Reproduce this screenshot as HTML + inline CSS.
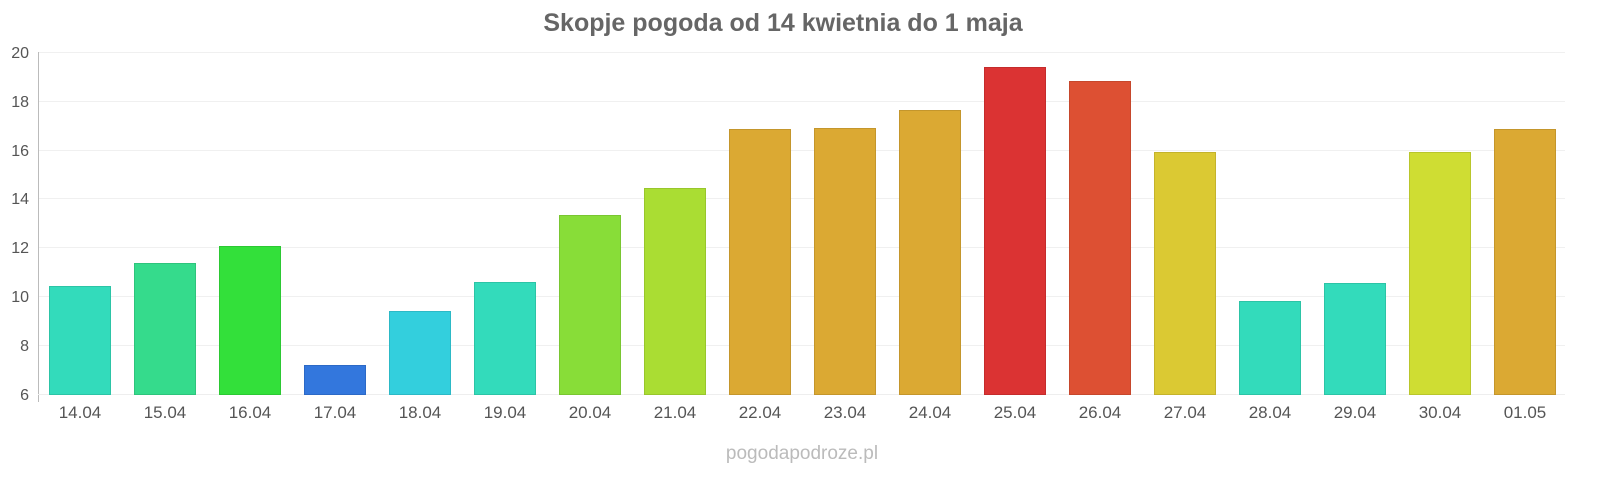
<!DOCTYPE html>
<html><head><meta charset="utf-8"><style>
body{margin:0;background:#fff;}
svg{display:block;font-family:"Liberation Sans",sans-serif;}
</style></head><body>
<svg width="1600" height="480" viewBox="0 0 1600 480">
<text x="783" y="31" text-anchor="middle" font-size="25" font-weight="bold" fill="#666">Skopje pogoda od 14 kwietnia do 1 maja</text>
<g stroke="#f0f0f0" stroke-width="1">
<line x1="38" x2="1565" y1="52.5" y2="52.5"/>
<line x1="38" x2="1565" y1="101.5" y2="101.5"/>
<line x1="38" x2="1565" y1="150.5" y2="150.5"/>
<line x1="38" x2="1565" y1="198.5" y2="198.5"/>
<line x1="38" x2="1565" y1="247.5" y2="247.5"/>
<line x1="38" x2="1565" y1="296.5" y2="296.5"/>
<line x1="38" x2="1565" y1="345.5" y2="345.5"/>
</g>
<line x1="38.5" x2="38.5" y1="52" y2="402" stroke="#bbb"/>
<line x1="38" x2="1565" y1="394.5" y2="394.5" stroke="#eee"/>
<g font-size="16" fill="#555" text-anchor="end">
<text x="29" y="58">20</text><text x="29" y="107">18</text><text x="29" y="156">16</text>
<text x="29" y="204">14</text><text x="29" y="253">12</text><text x="29" y="302">10</text>
<text x="29" y="351">8</text><text x="29" y="400">6</text>
</g>
<g stroke-width="1">
<rect x="49.5" y="286.5" width="61" height="108" fill="#33dbbb" stroke="#2cc4a6"/>
<rect x="134.5" y="263.5" width="61" height="131" fill="#35db8c" stroke="#2ec47c"/>
<rect x="219.5" y="246.5" width="61" height="148" fill="#33e03a" stroke="#2cc833"/>
<rect x="304.5" y="365.5" width="61" height="29" fill="#3377dd" stroke="#2c69c6"/>
<rect x="389.5" y="311.5" width="61" height="83" fill="#33cfdd" stroke="#2cb9c6"/>
<rect x="474.5" y="282.5" width="61" height="112" fill="#33dbbb" stroke="#2cc4a6"/>
<rect x="559.5" y="215.5" width="61" height="179" fill="#88dd38" stroke="#79c631"/>
<rect x="644.5" y="188.5" width="61" height="206" fill="#aadd33" stroke="#98c62c"/>
<rect x="729.5" y="129.5" width="61" height="265" fill="#dba933" stroke="#c4962c"/>
<rect x="814.5" y="128.5" width="61" height="266" fill="#dba933" stroke="#c4962c"/>
<rect x="899.5" y="110.5" width="61" height="284" fill="#dba933" stroke="#c4962c"/>
<rect x="984.5" y="67.5" width="61" height="327" fill="#db3333" stroke="#c42c2c"/>
<rect x="1069.5" y="81.5" width="61" height="313" fill="#dd5033" stroke="#c6472c"/>
<rect x="1154.5" y="152.5" width="61" height="242" fill="#dbc933" stroke="#c4b32c"/>
<rect x="1239.5" y="301.5" width="61" height="93" fill="#33dbbb" stroke="#2cc4a6"/>
<rect x="1324.5" y="283.5" width="61" height="111" fill="#33dbbb" stroke="#2cc4a6"/>
<rect x="1409.5" y="152.5" width="61" height="242" fill="#cfdd33" stroke="#b9c62c"/>
<rect x="1494.5" y="129.5" width="61" height="265" fill="#dba933" stroke="#c4962c"/>
</g>
<g font-size="17" fill="#555" text-anchor="middle">
<text x="80" y="418">14.04</text><text x="165" y="418">15.04</text><text x="250" y="418">16.04</text>
<text x="335" y="418">17.04</text><text x="420" y="418">18.04</text><text x="505" y="418">19.04</text>
<text x="590" y="418">20.04</text><text x="675" y="418">21.04</text><text x="760" y="418">22.04</text>
<text x="845" y="418">23.04</text><text x="930" y="418">24.04</text><text x="1015" y="418">25.04</text>
<text x="1100" y="418">26.04</text><text x="1185" y="418">27.04</text><text x="1270" y="418">28.04</text>
<text x="1355" y="418">29.04</text><text x="1440" y="418">30.04</text><text x="1525" y="418">01.05</text>
</g>
<text x="802" y="459" text-anchor="middle" font-size="19" fill="#bbb">pogodapodroze.pl</text>
</svg>
</body></html>
